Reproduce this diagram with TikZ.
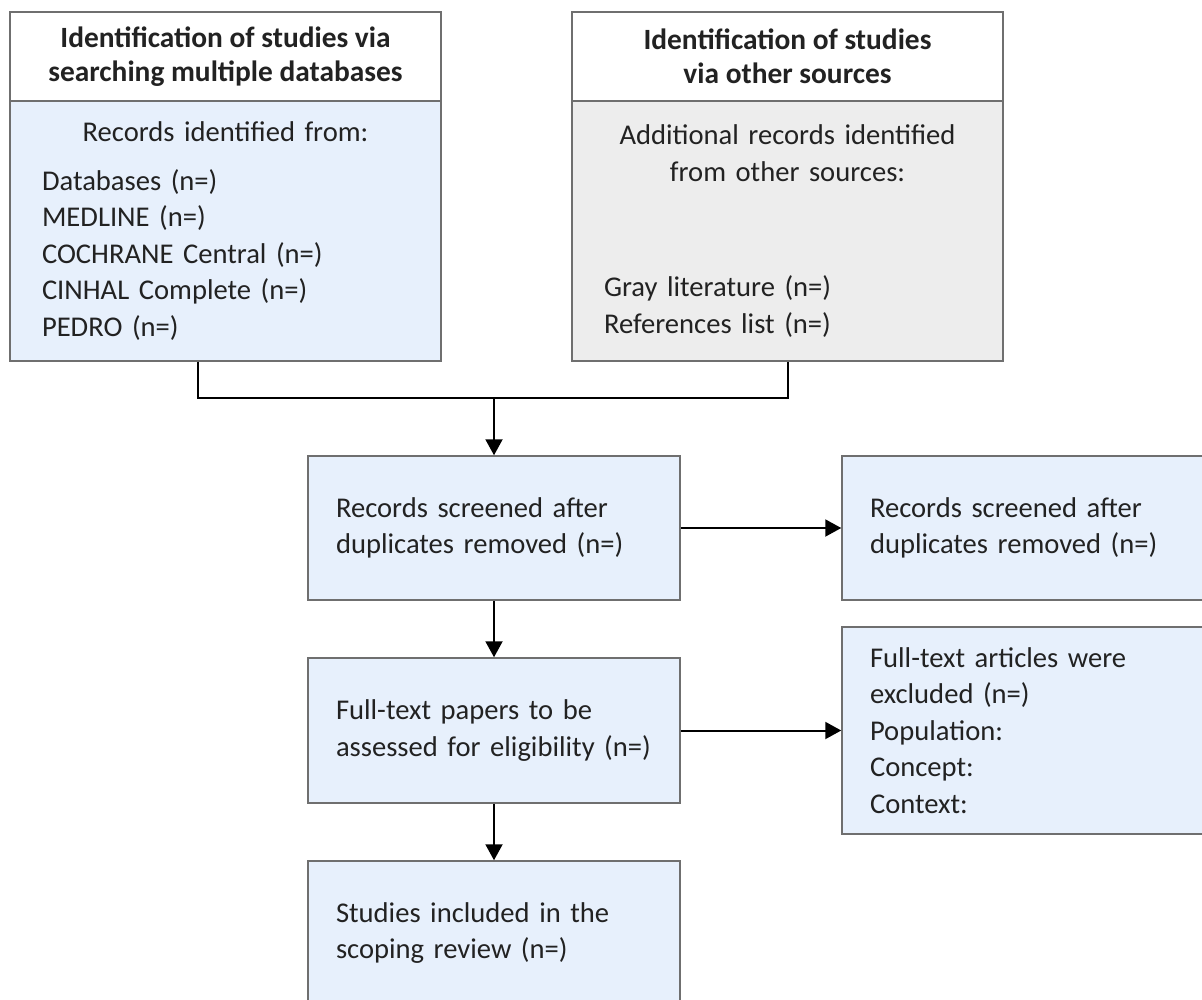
\documentclass[tikz,border=0pt]{standalone}
\usepackage{fontspec}
\setmainfont{Carlito}
\usepackage{xcolor}
\usetikzlibrary{arrows.meta}

\definecolor{boxblue}{HTML}{E7F0FC}
\definecolor{boxgray}{HTML}{EDEDED}
\definecolor{edgegray}{HTML}{6F6F6F}
\definecolor{inkgray}{HTML}{222222}

\begin{document}
\begin{tikzpicture}[x=0.5pt, y=-0.5pt,
  every node/.style={font=\fontsize{14.3}{18.25}\selectfont, text=inkgray},
  headbox/.style={draw=edgegray, line width=0.75pt, fill=white, minimum width=215.5pt, minimum height=44.5pt, align=center, font=\fontsize{14.7}{17}\selectfont\bfseries},
  srcbox/.style={draw=edgegray, line width=0.75pt, minimum width=215.5pt, minimum height=130pt, text width=183.5pt, inner xsep=16pt, align=left},
  flowbox/.style={draw=edgegray, line width=0.75pt, fill=boxblue, minimum width=186pt, text width=158pt, inner xsep=14pt, align=left},
  link/.style={line width=1pt, black},
  arrow/.style={link, -{Triangle[length=8pt,width=8.5pt]}}]
\useasboundingbox (0,0) rectangle (1202,999);

% identification
\node (dbhead) at (225.5,56.5) [headbox]{Identification of studies via\\searching multiple databases};
\node (dbbody) at (225.5,231) [srcbox, fill=boxblue]{\makebox[\linewidth]{Records identified from:}\\[6.25pt]
  Databases (n=)\\MEDLINE (n=)\\COCHRANE Central (n=)\\CINHAL Complete (n=)\\PEDRO (n=)};
\node (othhead) at (787.5,56.5) [headbox]{Identification of studies\\via other sources};
\node (othbody) at (787.5,231) [srcbox, fill=boxgray]{\makebox[\linewidth]{Additional records identified}\\\makebox[\linewidth]{from other sources:}\\[39.5pt]
  Gray literature (n=)\\References list (n=)};

% screening
\node (screen) at (494,528) [flowbox, minimum height=72pt]{Records screened after\\duplicates removed (n=)};
\node (dupl) at (1028,528) [flowbox, minimum height=72pt]{Records screened after\\duplicates removed (n=)};
\node (fulltext) at (494,730.5) [flowbox, minimum height=72.5pt]{Full-text papers to be\\assessed for eligibility (n=)};
\node (excl) at (1028,730.5) [flowbox, minimum height=103.5pt]{Full-text articles were\\excluded (n=)\\Population:\\Concept:\\Context:};
\node (incl) at (494,933) [flowbox, minimum height=72pt]{Studies included in the\\scoping review (n=)};

\coordinate (join) at (494,398);
\draw[link] ([xshift=-13.75pt]dbbody.south) |- (join) -| (othbody.south);
\draw[arrow] (join) -- (screen);
\draw[arrow] (screen) -- (dupl);
\draw[arrow] (screen) -- (fulltext);
\draw[arrow] (fulltext) -- (excl);
\draw[arrow] (fulltext) -- (incl);
\end{tikzpicture}
\end{document}
